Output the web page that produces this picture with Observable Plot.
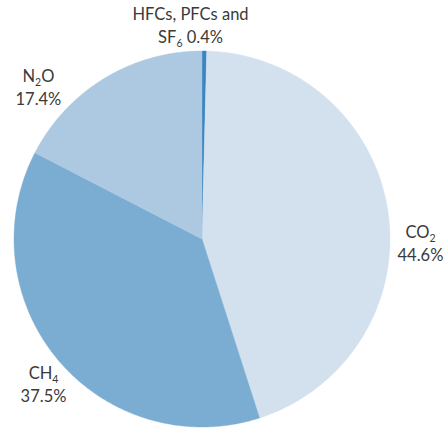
<!DOCTYPE html>
<html>
<head>
<meta charset="utf-8">
<script src="https://cdn.jsdelivr.net/npm/d3@7"></script>
<script src="https://cdn.jsdelivr.net/npm/@observablehq/plot@0.6"></script>
<style>
  html, body { margin: 0; padding: 0; background: #fff; }
  #chart { width: 448px; height: 430px; }
</style>
</head>
<body>
<div id="chart"></div>
<script>
// ---- data ----
const categories = ["HFCs, PFCs and SF₆", "CO₂", "CH₄", "N₂O"];
const shares = [0.4, 44.6, 37.5, 17.4];
const labelLine1 = ["HFCs, PFCs and", "CO₂", "CH₄", "N₂O"];
const labelLine2 = ["SF₆ 0.4%", "44.6%", "37.5%", "17.4%"];
const palette = ["#3a86c0", "#d3e1ef", "#7badd2", "#adc8e1"];

// ---- layout (label anchors in pie-radius units, y up) ----
const labelAnchor = [[-0.061, 1.130], [1.162, -0.029], [-0.843, -0.777], [-0.870, 0.803]];

// ---- build slice polygons from shares ----
const total = d3.sum(shares);
const slices = [];
let start = 0;
categories.forEach((name, i) => {
  const sweep = shares[i] / total * 2 * Math.PI;
  const end = start + sweep;
  slices.push({name, x: 0, y: 0});
  const n = Math.max(2, Math.ceil(sweep / (Math.PI / 360)));
  for (let k = 0; k <= n; k++) {
    const t = start + sweep * k / n;
    slices.push({name, x: Math.sin(t), y: Math.cos(t)});
  }
  slices.push({name, x: 0, y: 0});
  start = end;
});

const labels = categories.map((name, i) => ({
  name, l1: labelLine1[i], l2: labelLine2[i], x: labelAnchor[i][0], y: labelAnchor[i][1]
}));

const font = "Lato, 'Open Sans', sans-serif";
const textStyle = {fontSize: 16.5, fill: "#3a3a3a", textAnchor: "middle", fontFamily: font};

const plot = Plot.plot({
  width: 448,
  height: 430,
  marginLeft: 13.5,
  marginRight: 58.5,
  marginTop: 50.5,
  marginBottom: 3.5,
  x: {domain: [-1, 1], axis: null},
  y: {domain: [-1, 1], axis: null},
  color: {domain: categories, range: palette},
  style: {fontFamily: font, background: "white", overflow: "visible"},
  marks: [
    Plot.line(slices, {x: "x", y: "y", z: "name", fill: "name", stroke: "name", strokeWidth: 0.4, curve: "linear"}),
    Plot.text(labels, {x: "x", y: "y", text: "l1", dy: -11.5, ...textStyle}),
    Plot.text(labels, {x: "x", y: "y", text: "l2", dy: 11.5, ...textStyle})
  ]
});

// render unicode subscripts as smaller, lowered digits
const subMap = {"₀":"0","₁":"1","₂":"2","₃":"3","₄":"4","₅":"5","₆":"6","₇":"7","₈":"8","₉":"9"};
plot.querySelectorAll("text").forEach(t => {
  const s = t.textContent;
  if (!/[₀-₉]/.test(s)) return;
  while (t.firstChild) t.removeChild(t.firstChild);
  const ns = "http://www.w3.org/2000/svg";
  let lowered = false;
  const runs = s.match(/[₀-₉]+|[^₀-₉]+/g);
  runs.forEach(run => {
    const sp = document.createElementNS(ns, "tspan");
    if (/[₀-₉]/.test(run)) {
      sp.textContent = run.replace(/[₀-₉]/g, c => subMap[c]);
      sp.setAttribute("font-size", "10.5");
      sp.setAttribute("dy", "4");
      lowered = true;
    } else {
      sp.textContent = run;
      if (lowered) { sp.setAttribute("dy", "-4"); lowered = false; }
    }
    t.appendChild(sp);
  });
});

document.getElementById("chart").appendChild(plot);
</script>
</body>
</html>
